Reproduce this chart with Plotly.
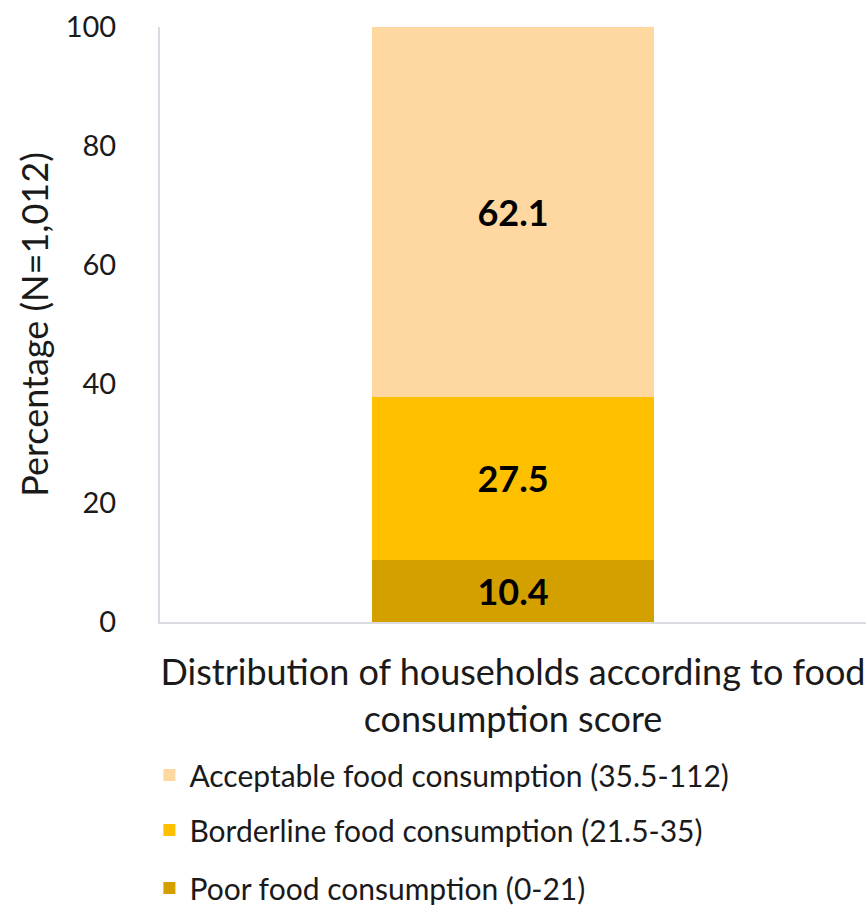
import plotly.graph_objects as go

categories = ["Distribution of households according to food<br>consumption score"]
series_names = [
    "Poor food consumption (0-21)",
    "Borderline food consumption (21.5-35)",
    "Acceptable food consumption (35.5-112)",
]
poor = [10.4]
borderline = [27.5]
acceptable = [62.1]
colors = ["#D4A000", "#FFC000", "#FED8A0"]
y_ticks = [0, 20, 40, 60, 80, 100]

FONT = "Lato"
legend_ids = ["legend3", "legend2", "legend"]
legend_y = {"legend": 0.1436, "legend2": 0.0829, "legend3": 0.0188}

fig = go.Figure()
for name, vals, col, lg in zip(series_names, [poor, borderline, acceptable], colors, legend_ids):
    fig.add_trace(go.Bar(
        x=categories, y=vals, name=name, legend=lg, showlegend=True,
        marker=dict(color=col, line=dict(width=0)),
        texttemplate="<b>%{y:.1f}</b>", textposition="inside",
        insidetextanchor="middle",
        textfont=dict(family=FONT, size=36, color="black"),
    ))

legend_common = dict(x=-0.015, xanchor="left", yanchor="middle", yref="container",
                     font=dict(size=30, family=FONT, color="#1a1a1a"),
                     itemwidth=30, bgcolor="rgba(0,0,0,0)")

fig.update_layout(
    barmode="stack",
    bargap=0.6,
    showlegend=True,
    width=866, height=905,
    margin=dict(l=160, r=0, t=27, b=283),
    plot_bgcolor="white", paper_bgcolor="white",
    font=dict(family=FONT, color="#1a1a1a"),
    yaxis=dict(
        range=[0, 100], tickvals=y_ticks, showgrid=False,
        showline=True, linecolor="#D9DAE2", linewidth=2,
        ticks="", ticklabelstandoff=36,
        tickfont=dict(size=29, family=FONT),
        title=dict(text="Percentage (N=1,012)", font=dict(size=36, family=FONT), standoff=6),
        zeroline=False,
    ),
    xaxis=dict(
        showline=True, linecolor="#D9DAE2", linewidth=2,
        ticks="", ticklabelstandoff=18,
        tickfont=dict(size=36, family=FONT),
    ),
    legend=dict(y=legend_y["legend"], **legend_common),
    legend2=dict(y=legend_y["legend2"], **legend_common),
    legend3=dict(y=legend_y["legend3"], **legend_common),
)

fig.write_html("out.html")
